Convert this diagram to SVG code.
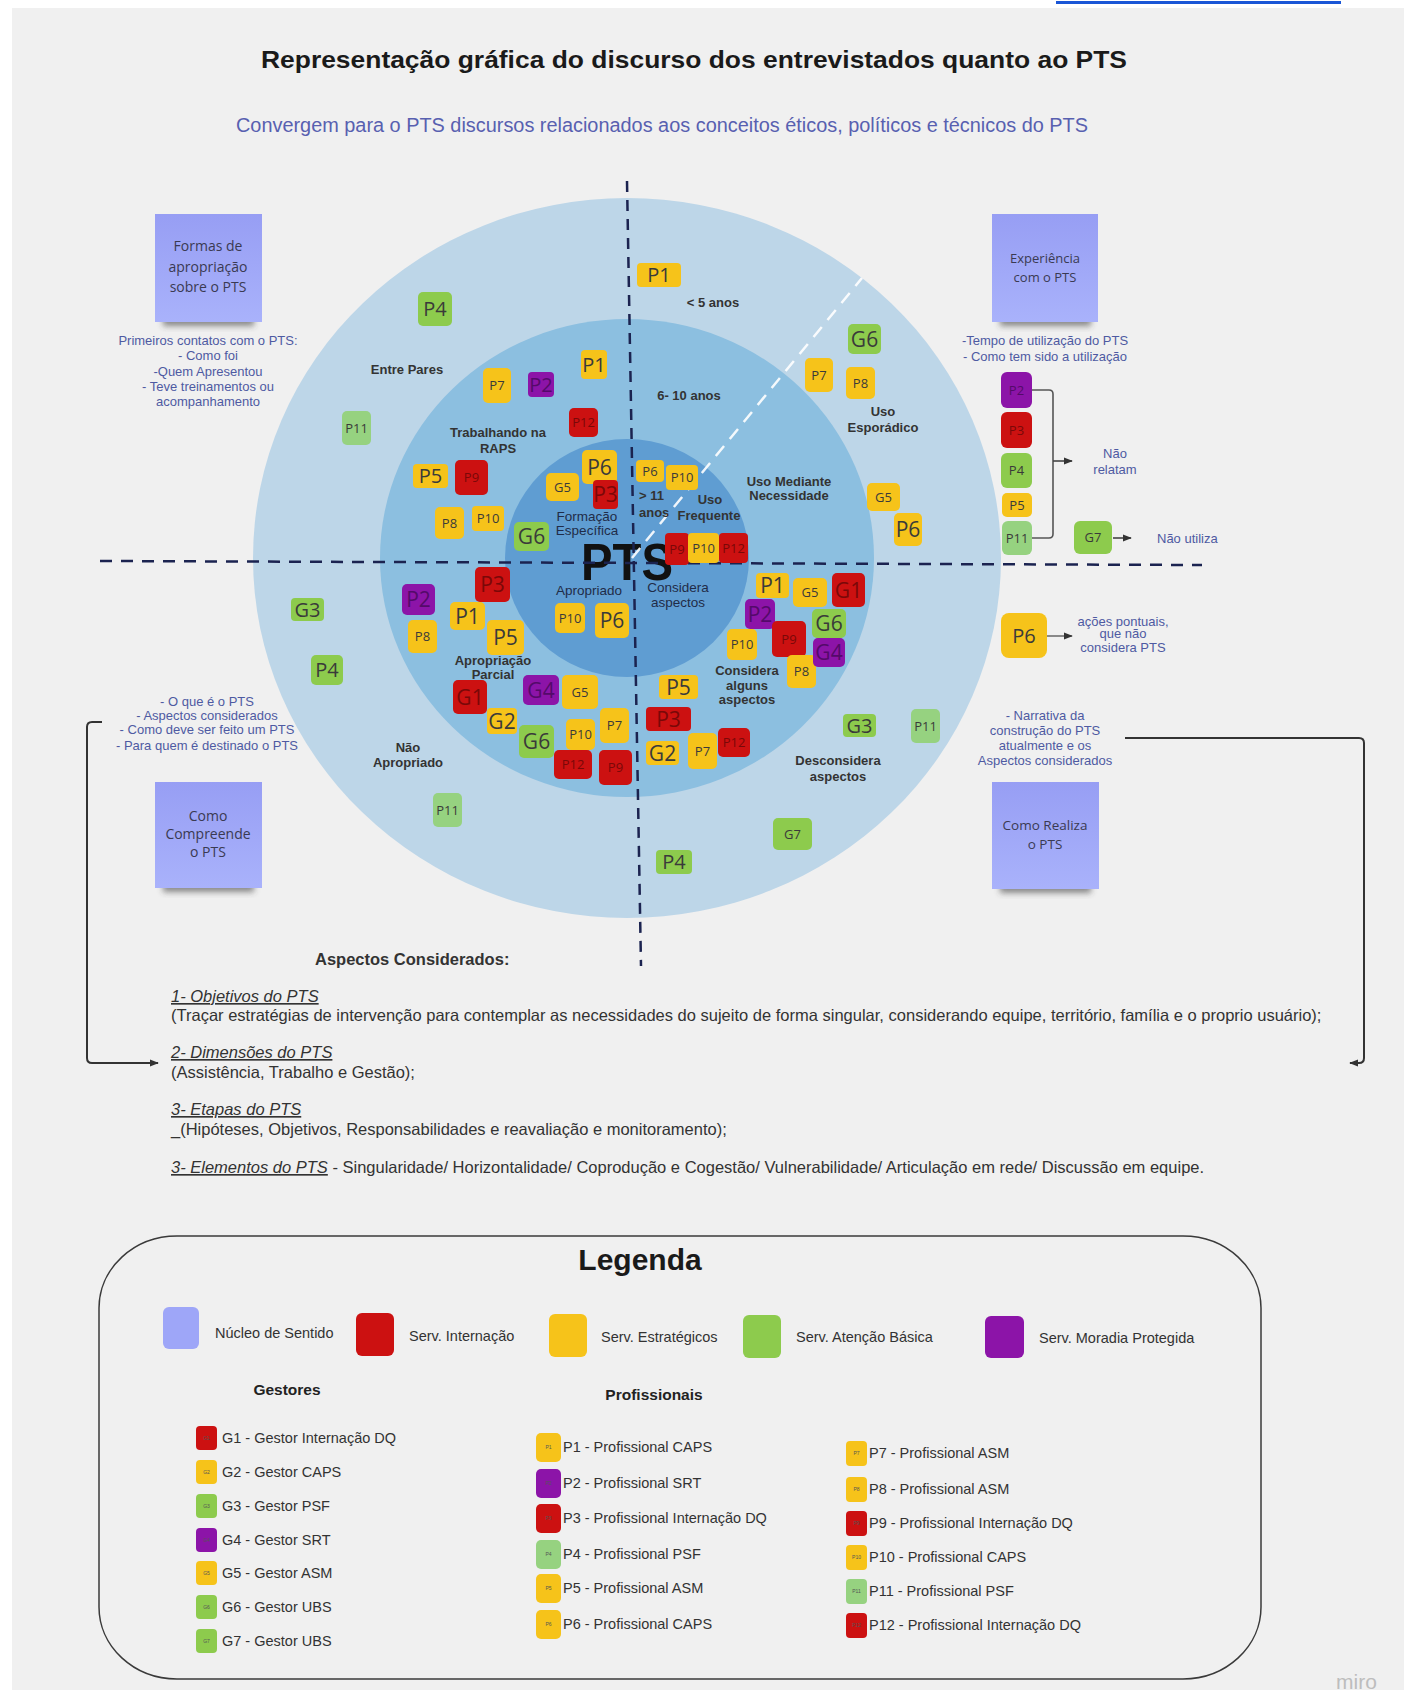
<svg xmlns="http://www.w3.org/2000/svg" width="1404" height="1690" viewBox="0 0 1404 1690">
<defs>
<style>
.sans{font-family:"Liberation Sans",Arial,sans-serif}
.tk{font-family:"Open Sans","Noto Sans",sans-serif;text-anchor:middle;fill:#3a3a3a}
.y{fill:#f6c31a}.r{fill:#cc1111}.g{fill:#8dcb4d}.lg{fill:#96d280}.pu{fill:#8c14a8}
.tr{fill:#7a0808}.tp{fill:#540a6a}
.b{font-size:20px}.s{font-size:13px}.m{font-size:21px}
.ring{font-family:"Liberation Sans",Arial,sans-serif;font-size:13px;font-weight:bold;fill:#333;text-anchor:middle}
.ringn{font-family:"Liberation Sans",Arial,sans-serif;font-size:13.5px;fill:#1f2c48;text-anchor:middle}
.blue{font-family:"Liberation Sans",Arial,sans-serif;font-size:13px;fill:#4e5aa2;text-anchor:middle}
.note{font-family:"Open Sans","Noto Sans",sans-serif;fill:#3a3a52;text-anchor:middle}
.body{font-family:"Liberation Sans",Arial,sans-serif;font-size:16.5px;fill:#333}
.leg{font-family:"Liberation Sans",Arial,sans-serif;font-size:14.5px;fill:#333}
.tiny{font-family:"Liberation Sans",Arial,sans-serif;font-size:5px;fill:#555;text-anchor:middle}
.conn{fill:none;stroke:#333;stroke-width:2}
.st{text-anchor:start}
</style>
<linearGradient id="stick" x1="0" y1="0" x2="0" y2="1">
<stop offset="0" stop-color="#979ef4"/>
<stop offset="1" stop-color="#a9b2fb"/>
</linearGradient>
<filter id="soft" x="-20%" y="-50%" width="140%" height="200%">
<feGaussianBlur stdDeviation="3"/>
</filter>
<marker id="ah" viewBox="0 0 10 10" refX="9" refY="5" markerWidth="9" markerHeight="9" markerUnits="userSpaceOnUse" orient="auto">
<path d="M0,1 L10,5 L0,9 Z" fill="#333"/>
</marker>
</defs>

<!-- canvas -->
<rect x="0" y="0" width="1404" height="1690" fill="#ffffff"/>
<rect x="12" y="8" width="1392" height="1682" fill="#f0f0f0"/>
<rect x="1056" y="1" width="285" height="3" fill="#1a56d6"/>

<!-- headings -->
<text class="sans" x="694" y="68" font-size="24" font-weight="bold" fill="#1a1a1a" text-anchor="middle" textLength="866" lengthAdjust="spacingAndGlyphs">Representação gráfica do discurso dos entrevistados quanto ao PTS</text>
<text class="sans" x="662" y="132" font-size="19.5" fill="#5860b0" text-anchor="middle" textLength="852" lengthAdjust="spacingAndGlyphs">Convergem para o PTS discursos relacionados aos conceitos éticos, políticos e técnicos do PTS</text>

<!-- concentric rings -->
<g id="rings">
<ellipse cx="627" cy="558" rx="374" ry="360" fill="#bdd6e8"/>
<ellipse cx="627" cy="558" rx="247" ry="239" fill="#8cbfe0"/>
<ellipse cx="627" cy="558" rx="122" ry="119" fill="#5f9dd2"/>
<text class="sans" x="627" y="580" font-size="52" font-weight="bold" fill="#111" text-anchor="middle" textLength="92" lengthAdjust="spacingAndGlyphs">PTS</text>
</g>

<!-- axes and links -->
<g id="connectors">
<line x1="100" y1="561" x2="1202" y2="565" stroke="#1b2350" stroke-width="2.5" stroke-dasharray="12 9"/>
<line x1="627" y1="181" x2="641" y2="966" stroke="#1b2350" stroke-width="2.5" stroke-dasharray="11 8"/>
<line x1="632" y1="558" x2="862" y2="278" stroke="#ffffff" stroke-opacity="0.9" stroke-width="2.5" stroke-dasharray="13 9"/>
<path d="M1032 390 H1049 Q1053 390 1053 394 V534 Q1053 538 1049 538 H1032" fill="none" stroke="#555" stroke-width="1.6"/>
<path d="M1053 461 H1072" fill="none" stroke="#444" stroke-width="1.6" marker-end="url(#ah)"/>
<path d="M1113 538 H1131" fill="none" stroke="#444" stroke-width="1.6" marker-end="url(#ah)"/>
<path d="M1047 636 H1072" fill="none" stroke="#444" stroke-width="1.2" marker-end="url(#ah)"/>
<path class="conn" d="M102 722 H92 Q87 722 87 727 V1058 Q87 1063 92 1063 H158" marker-end="url(#ah)"/>
<path class="conn" d="M1125 738 H1359 Q1364 738 1364 743 V1058 Q1364 1063 1359 1063 H1350" marker-end="url(#ah)"/>
</g>

<!-- ring labels -->
<g id="labels">
<text class="ring" x="407" y="374">Entre Pares</text>
<text class="ring" x="498" y="437">Trabalhando na</text>
<text class="ring" x="498" y="453">RAPS</text>
<text class="ring" x="713" y="307">&lt; 5 anos</text>
<text class="ring" x="689" y="400">6- 10 anos</text>
<text class="ring" x="883" y="416">Uso</text>
<text class="ring" x="883" y="432">Esporádico</text>
<text class="ringn" x="587" y="521">Formação</text>
<text class="ringn" x="587" y="535">Específica</text>
<text class="ring st" x="639" y="500">&gt; 11</text>
<text class="ring st" x="639" y="517">anos</text>
<text class="ring" x="710" y="504">Uso</text>
<text class="ring" x="709" y="520">Frequente</text>
<text class="ring" x="789" y="486">Uso Mediante</text>
<text class="ring" x="789" y="500">Necessidade</text>
<text class="ringn" x="589" y="595">Apropriado</text>
<text class="ringn" x="678" y="592">Considera</text>
<text class="ringn" x="678" y="607">aspectos</text>
<text class="ring" x="493" y="665">Apropriação</text>
<text class="ring" x="493" y="679">Parcial</text>
<text class="ring" x="747" y="675">Considera</text>
<text class="ring" x="747" y="690">alguns</text>
<text class="ring" x="747" y="704">aspectos</text>
<text class="ring" x="838" y="765">Desconsidera</text>
<text class="ring" x="838" y="781">aspectos</text>
<text class="ring" x="408" y="752">Não</text>
<text class="ring" x="408" y="767">Apropriado</text>
</g>

<!-- meaning-core notes -->
<g id="note-formas">
<rect x="163" y="314" width="91" height="12" fill="#333" opacity="0.55" filter="url(#soft)"/>
<rect x="155" y="214" width="107" height="108" fill="url(#stick)"/>
<text class="note" font-size="14" x="208" y="251">Formas de</text>
<text class="note" font-size="14" x="208" y="272">apropriação</text>
<text class="note" font-size="14" x="208" y="292">sobre o PTS</text>
</g>
<g id="note-experiencia">
<rect x="1000" y="314" width="91" height="12" fill="#333" opacity="0.55" filter="url(#soft)"/>
<rect x="992" y="214" width="106" height="108" fill="url(#stick)"/>
<text class="note" font-size="13" x="1045" y="263">Experiência</text>
<text class="note" font-size="13" x="1045" y="282">com o PTS</text>
</g>
<g id="note-compreende">
<rect x="163" y="880" width="91" height="12" fill="#333" opacity="0.55" filter="url(#soft)"/>
<rect x="155" y="782" width="107" height="106" fill="url(#stick)"/>
<text class="note" font-size="14" x="208" y="821">Como</text>
<text class="note" font-size="14" x="208" y="839">Compreende</text>
<text class="note" font-size="14" x="208" y="857">o PTS</text>
</g>
<g id="note-realiza">
<rect x="1000" y="881" width="91" height="12" fill="#333" opacity="0.55" filter="url(#soft)"/>
<rect x="992" y="782" width="107" height="107" fill="url(#stick)"/>
<text class="note" font-size="13.5" x="1045" y="830">Como Realiza</text>
<text class="note" font-size="13.5" x="1045" y="849">o PTS</text>
</g>

<!-- note descriptions -->
<g id="desc">
<text class="blue" x="208" y="345">Primeiros contatos com o PTS:</text>
<text class="blue" x="208" y="360">- Como foi</text>
<text class="blue" x="208" y="376">-Quem Apresentou</text>
<text class="blue" x="208" y="391">- Teve treinamentos ou</text>
<text class="blue" x="208" y="406">acompanhamento</text>
<text class="blue" x="1045" y="345">-Tempo de utilização do PTS</text>
<text class="blue" x="1045" y="361">- Como tem sido a utilização</text>
<text class="blue" x="207" y="706">- O que é o PTS</text>
<text class="blue" x="207" y="720">- Aspectos considerados</text>
<text class="blue" x="207" y="734">- Como deve ser feito um PTS</text>
<text class="blue" x="207" y="750">- Para quem é destinado o PTS</text>
<text class="blue" x="1045" y="720">- Narrativa da</text>
<text class="blue" x="1045" y="735">construção do PTS</text>
<text class="blue" x="1045" y="750">atualmente e os</text>
<text class="blue" x="1045" y="765">Aspectos considerados</text>
<text class="blue" x="1115" y="458" font-size="14.5" fill="#5f67b0">Não</text>
<text class="blue" x="1115" y="474" font-size="14.5" fill="#5f67b0">relatam</text>
<text class="blue st" x="1157" y="543" font-size="14.5" fill="#5f67b0">Não utiliza</text>
<text class="blue" x="1123" y="626" font-size="10">ações pontuais,</text>
<text class="blue" x="1123" y="638" font-size="10">que não</text>
<text class="blue" x="1123" y="652" font-size="10">considera PTS</text>
</g>

<!-- participant tokens -->
<g id="t01"><rect class="g" x="418" y="292" width="34" height="34" rx="5"/><text class="tk b" x="435" y="316">P4</text></g>
<g id="t02"><rect class="lg" x="342" y="411" width="29" height="34" rx="5"/><text class="tk s" x="356.5" y="432.7">P11</text></g>
<g id="t03"><rect class="y" x="483" y="368" width="28" height="35" rx="5"/><text class="tk s" x="497" y="390.2">P7</text></g>
<g id="t04"><rect class="pu" x="528" y="372" width="26" height="25" rx="4"/><text class="tk b tp" x="541" y="391.7">P2</text></g>
<g id="t05"><rect class="y" x="581" y="350" width="26" height="29" rx="4"/><text class="tk b" x="594" y="371.7">P1</text></g>
<g id="t06"><rect class="r" x="569" y="408" width="29" height="29" rx="5"/><text class="tk s tr" x="583.5" y="427.2">P12</text></g>
<g id="t07"><rect class="y" x="413" y="464" width="35" height="24" rx="4"/><text class="tk b" x="430.5" y="483.2">P5</text></g>
<g id="t08"><rect class="r" x="455" y="460" width="33" height="35" rx="5"/><text class="tk s tr" x="471.5" y="482.2">P9</text></g>
<g id="t09"><rect class="y" x="435" y="507" width="29" height="32" rx="5"/><text class="tk s" x="449.5" y="527.7">P8</text></g>
<g id="t10"><rect class="y" x="472" y="506" width="32" height="25" rx="4"/><text class="tk s" x="488" y="523.2">P10</text></g>
<g id="t11"><rect class="g" x="514" y="522" width="35" height="29" rx="5"/><text class="tk m" x="531.5" y="544.1">G6</text></g>
<g id="t12"><rect class="y" x="546" y="473" width="33" height="28" rx="5"/><text class="tk s" x="562.5" y="491.7">G5</text></g>
<g id="t13"><rect class="y" x="582" y="450" width="35" height="34" rx="5"/><text class="tk m" x="599.5" y="474.6">P6</text></g>
<g id="t14"><rect class="r" x="593" y="480" width="25" height="29" rx="4"/><text class="tk m tr" x="605.5" y="502.1">P3</text></g>
<g id="t15"><rect class="y" x="637" y="263" width="44" height="24" rx="4"/><text class="tk b" x="659" y="282.2">P1</text></g>
<g id="t16"><rect class="g" x="848" y="324" width="33" height="30" rx="5"/><text class="tk m" x="864.5" y="346.6">G6</text></g>
<g id="t17"><rect class="y" x="805" y="358" width="28" height="34" rx="5"/><text class="tk s" x="819" y="379.7">P7</text></g>
<g id="t18"><rect class="y" x="846" y="367" width="29" height="32" rx="5"/><text class="tk s" x="860.5" y="387.7">P8</text></g>
<g id="t19"><rect class="y" x="867" y="483" width="33" height="28" rx="5"/><text class="tk s" x="883.5" y="501.7">G5</text></g>
<g id="t20"><rect class="y" x="894" y="513" width="28" height="33" rx="5"/><text class="tk m" x="908" y="537.1">P6</text></g>
<g id="t21"><rect class="y" x="636" y="460" width="28" height="22" rx="4"/><text class="tk s" x="650" y="475.7">P6</text></g>
<g id="t22"><rect class="y" x="666" y="465" width="32" height="25" rx="4"/><text class="tk s" x="682" y="482.2">P10</text></g>
<g id="t23"><rect class="r" x="665" y="533" width="24" height="32" rx="4"/><text class="tk s tr" x="677" y="553.7">P9</text></g>
<g id="t24"><rect class="y" x="688" y="533" width="31" height="30" rx="4"/><text class="tk s" x="703.5" y="552.7">P10</text></g>
<g id="t25"><rect class="r" x="719" y="533" width="29" height="30" rx="4"/><text class="tk s tr" x="733.5" y="552.7">P12</text></g>
<g id="t26"><rect class="y" x="555" y="603" width="30" height="30" rx="5"/><text class="tk s" x="570" y="622.7">P10</text></g>
<g id="t27"><rect class="y" x="595" y="603" width="34" height="35" rx="5"/><text class="tk m" x="612" y="628.1">P6</text></g>
<g id="t28"><rect class="r" x="475" y="567" width="35" height="35" rx="5"/><text class="tk m tr" x="492.5" y="592.1">P3</text></g>
<g id="t29"><rect class="pu" x="402" y="584" width="33" height="31" rx="5"/><text class="tk m tp" x="418.5" y="607.1">P2</text></g>
<g id="t30"><rect class="y" x="450" y="602" width="35" height="28" rx="5"/><text class="tk m" x="467.5" y="623.6">P1</text></g>
<g id="t31"><rect class="y" x="408" y="620" width="29" height="33" rx="5"/><text class="tk s" x="422.5" y="641.2">P8</text></g>
<g id="t32"><rect class="y" x="487" y="620" width="37" height="35" rx="5"/><text class="tk m" x="505.5" y="645.1">P5</text></g>
<g id="t33"><rect class="r" x="453" y="680" width="34" height="34" rx="5"/><text class="tk m tr" x="470" y="704.6">G1</text></g>
<g id="t34"><rect class="pu" x="523" y="675" width="36" height="30" rx="5"/><text class="tk m tp" x="541" y="697.6">G4</text></g>
<g id="t35"><rect class="y" x="562" y="675" width="36" height="34" rx="5"/><text class="tk s" x="580" y="696.7">G5</text></g>
<g id="t36"><rect class="y" x="487" y="708" width="30" height="26" rx="4"/><text class="tk m" x="502" y="728.6">G2</text></g>
<g id="t37"><rect class="g" x="519" y="725" width="35" height="33" rx="5"/><text class="tk m" x="536.5" y="749.1">G6</text></g>
<g id="t38"><rect class="y" x="566" y="719" width="29" height="31" rx="5"/><text class="tk s" x="580.5" y="739.2">P10</text></g>
<g id="t39"><rect class="y" x="600" y="708" width="29" height="35" rx="5"/><text class="tk s" x="614.5" y="730.2">P7</text></g>
<g id="t40"><rect class="r" x="554" y="750" width="38" height="29" rx="5"/><text class="tk s tr" x="573" y="769.2">P12</text></g>
<g id="t41"><rect class="r" x="599" y="750" width="33" height="35" rx="5"/><text class="tk s tr" x="615.5" y="772.2">P9</text></g>
<g id="t42"><rect class="g" x="291" y="598" width="33" height="23" rx="4"/><text class="tk b" x="307.5" y="616.7">G3</text></g>
<g id="t43"><rect class="g" x="311" y="655" width="32" height="30" rx="5"/><text class="tk b" x="327" y="677.2">P4</text></g>
<g id="t44"><rect class="lg" x="433" y="793" width="29" height="34" rx="5"/><text class="tk s" x="447.5" y="814.7">P11</text></g>
<g id="t45"><rect class="y" x="659" y="675" width="39" height="24" rx="4"/><text class="tk m" x="678.5" y="694.6">P5</text></g>
<g id="t46"><rect class="r" x="646" y="707" width="45" height="24" rx="4"/><text class="tk m tr" x="668.5" y="726.6">P3</text></g>
<g id="t47"><rect class="y" x="646" y="741" width="33" height="24" rx="4"/><text class="tk m" x="662.5" y="760.6">G2</text></g>
<g id="t48"><rect class="y" x="688" y="733" width="29" height="36" rx="5"/><text class="tk s" x="702.5" y="755.7">P7</text></g>
<g id="t49"><rect class="r" x="718" y="728" width="32" height="29" rx="5"/><text class="tk s tr" x="734" y="747.2">P12</text></g>
<g id="t50"><rect class="y" x="756" y="573" width="33" height="25" rx="4"/><text class="tk m" x="772.5" y="593.1">P1</text></g>
<g id="t51"><rect class="y" x="793" y="578" width="34" height="29" rx="5"/><text class="tk s" x="810" y="597.2">G5</text></g>
<g id="t52"><rect class="r" x="832" y="573" width="33" height="34" rx="5"/><text class="tk m tr" x="848.5" y="597.6">G1</text></g>
<g id="t53"><rect class="pu" x="745" y="599" width="30" height="30" rx="5"/><text class="tk m tp" x="760" y="621.6">P2</text></g>
<g id="t54"><rect class="g" x="812" y="609" width="34" height="29" rx="5"/><text class="tk m" x="829" y="631.1">G6</text></g>
<g id="t55"><rect class="y" x="727" y="629" width="30" height="31" rx="5"/><text class="tk s" x="742" y="649.2">P10</text></g>
<g id="t56"><rect class="r" x="772" y="621" width="34" height="36" rx="5"/><text class="tk s tr" x="789" y="643.7">P9</text></g>
<g id="t58"><rect class="y" x="787" y="655" width="29" height="33" rx="5"/><text class="tk s" x="801.5" y="676.2">P8</text></g>
<g id="t57"><rect class="pu" x="813" y="638" width="32" height="29" rx="5"/><text class="tk m tp" x="829" y="660.1">G4</text></g>
<g id="t59"><rect class="g" x="843" y="714" width="33" height="23" rx="4"/><text class="tk b" x="859.5" y="732.7">G3</text></g>
<g id="t60"><rect class="lg" x="911" y="709" width="29" height="34" rx="5"/><text class="tk s" x="925.5" y="730.7">P11</text></g>
<g id="t61"><rect class="g" x="773" y="818" width="39" height="32" rx="5"/><text class="tk s" x="792.5" y="838.7">G7</text></g>
<g id="t62"><rect class="g" x="656" y="850" width="36" height="24" rx="4"/><text class="tk b" x="674" y="869.2">P4</text></g>
<g id="t63"><rect class="pu" x="1001" y="372" width="31" height="36" rx="6"/><text class="tk s tp" x="1016.5" y="394.7">P2</text></g>
<g id="t64"><rect class="r" x="1001" y="412" width="31" height="36" rx="6"/><text class="tk s tr" x="1016.5" y="434.7">P3</text></g>
<g id="t65"><rect class="g" x="1001" y="453" width="31" height="35" rx="6"/><text class="tk s" x="1016.5" y="475.2">P4</text></g>
<g id="t66"><rect class="y" x="1002" y="493" width="30" height="24" rx="5"/><text class="tk s" x="1017" y="509.7">P5</text></g>
<g id="t67"><rect class="lg" x="1002" y="521" width="30" height="34" rx="6"/><text class="tk s" x="1017" y="542.7">P11</text></g>
<g id="t68"><rect class="g" x="1074" y="521" width="38" height="33" rx="6"/><text class="tk s" x="1093" y="542.2">G7</text></g>
<g id="t69"><rect class="y" x="1001" y="613" width="46" height="45" rx="8"/><text class="tk b" x="1024" y="642.7">P6</text></g>

<!-- considered aspects -->
<g id="aspectos">
<text class="body" x="315" y="965" font-weight="bold">Aspectos Considerados:</text>
<text class="body" x="171" y="1002" font-style="italic" text-decoration="underline">1- Objetivos do PTS</text>
<text class="body" x="171" y="1021">(Traçar estratégias de intervenção para contemplar as necessidades do sujeito de forma singular, considerando equipe, território, família e o proprio usuário);</text>
<text class="body" x="171" y="1058" font-style="italic" text-decoration="underline">2- Dimensões do PTS</text>
<text class="body" x="171" y="1078">(Assistência, Trabalho e Gestão);</text>
<text class="body" x="171" y="1115" font-style="italic" text-decoration="underline">3- Etapas do PTS</text>
<text class="body" x="171" y="1135">_(Hipóteses, Objetivos, Responsabilidades e reavaliação e monitoramento);</text>
<text class="body" x="171" y="1173"><tspan font-style="italic" text-decoration="underline">3- Elementos do PTS</tspan> - Singularidade/ Horizontalidade/ Coprodução e Cogestão/ Vulnerabilidade/ Articulação em rede/ Discussão em equipe.</text>
</g>

<!-- legend -->
<g id="legend">
<rect x="99" y="1236" width="1162" height="443" rx="78" ry="72" fill="none" stroke="#3a3a3a" stroke-width="1.5"/>
<text class="sans" x="640" y="1270" font-size="30" font-weight="bold" fill="#1a1a1a" text-anchor="middle">Legenda</text>
<rect x="163" y="1307" width="36" height="42" rx="6" fill="#9ea6f8"/>
<text class="leg" x="215" y="1338">Núcleo de Sentido</text>
<rect class="r" x="356" y="1313" width="38" height="43" rx="6"/>
<text class="leg" x="409" y="1341">Serv. Internação</text>
<rect class="y" x="549" y="1314" width="38" height="43" rx="6"/>
<text class="leg" x="601" y="1342">Serv. Estratégicos</text>
<rect class="g" x="743" y="1315" width="38" height="43" rx="6"/>
<text class="leg" x="796" y="1342">Serv. Atenção Básica</text>
<rect class="pu" x="985" y="1316" width="39" height="42" rx="6"/>
<text class="leg" x="1039" y="1343">Serv. Moradia Protegida</text>
<text class="sans" x="287" y="1395" font-size="15.5" font-weight="bold" fill="#222" text-anchor="middle">Gestores</text>
<text class="sans" x="654" y="1400" font-size="15.5" font-weight="bold" fill="#222" text-anchor="middle">Profissionais</text>

<rect class="r" x="196" y="1426" width="21" height="24" rx="4"/><text class="tiny" x="206.5" y="1440">G1</text><text class="leg" x="222" y="1443">G1 - Gestor Internação DQ</text>
<rect class="y" x="196" y="1460" width="21" height="24" rx="4"/><text class="tiny" x="206.5" y="1474">G2</text><text class="leg" x="222" y="1477">G2 - Gestor CAPS</text>
<rect class="g" x="196" y="1494" width="21" height="24" rx="4"/><text class="tiny" x="206.5" y="1508">G3</text><text class="leg" x="222" y="1511">G3 - Gestor PSF</text>
<rect class="pu" x="196" y="1528" width="21" height="24" rx="4"/><text class="tiny" x="206.5" y="1542">G4</text><text class="leg" x="222" y="1545">G4 - Gestor SRT</text>
<rect class="y" x="196" y="1561" width="21" height="24" rx="4"/><text class="tiny" x="206.5" y="1575">G5</text><text class="leg" x="222" y="1578">G5 - Gestor ASM</text>
<rect class="g" x="196" y="1595" width="21" height="24" rx="4"/><text class="tiny" x="206.5" y="1609">G6</text><text class="leg" x="222" y="1612">G6 - Gestor UBS</text>
<rect class="g" x="196" y="1629" width="21" height="24" rx="4"/><text class="tiny" x="206.5" y="1643">G7</text><text class="leg" x="222" y="1646">G7 - Gestor UBS</text>

<rect class="y" x="536" y="1433" width="25" height="29" rx="5"/><text class="tiny" x="548.5" y="1449">P1</text><text class="leg" x="563" y="1452">P1 -  Profissional CAPS</text>
<rect class="pu" x="536" y="1469" width="25" height="29" rx="5"/><text class="tiny" x="548.5" y="1485">P2</text><text class="leg" x="563" y="1488">P2 - Profissional SRT</text>
<rect class="r" x="536" y="1504" width="25" height="29" rx="5"/><text class="tiny" x="548.5" y="1520">P3</text><text class="leg" x="563" y="1523">P3 - Profissional Internação DQ</text>
<rect class="lg" x="536" y="1540" width="25" height="29" rx="5"/><text class="tiny" x="548.5" y="1556">P4</text><text class="leg" x="563" y="1559">P4 - Profissional PSF</text>
<rect class="y" x="536" y="1574" width="25" height="29" rx="5"/><text class="tiny" x="548.5" y="1590">P5</text><text class="leg" x="563" y="1593">P5 - Profissional ASM</text>
<rect class="y" x="536" y="1610" width="25" height="29" rx="5"/><text class="tiny" x="548.5" y="1626">P6</text><text class="leg" x="563" y="1629">P6 - Profissional CAPS</text>

<rect class="y" x="846" y="1441" width="21" height="25" rx="4"/><text class="tiny" x="856.5" y="1455">P7</text><text class="leg" x="869" y="1458">P7 -  Profissional ASM</text>
<rect class="y" x="846" y="1477" width="21" height="25" rx="4"/><text class="tiny" x="856.5" y="1491">P8</text><text class="leg" x="869" y="1494">P8 - Profissional ASM</text>
<rect class="r" x="846" y="1511" width="21" height="25" rx="4"/><text class="tiny" x="856.5" y="1525">P9</text><text class="leg" x="869" y="1528">P9 - Profissional Internação DQ</text>
<rect class="y" x="846" y="1545" width="21" height="25" rx="4"/><text class="tiny" x="856.5" y="1559">P10</text><text class="leg" x="869" y="1562">P10 - Profissional CAPS</text>
<rect class="lg" x="846" y="1579" width="21" height="25" rx="4"/><text class="tiny" x="856.5" y="1593">P11</text><text class="leg" x="869" y="1596">P11 - Profissional PSF</text>
<rect class="r" x="846" y="1613" width="21" height="25" rx="4"/><text class="tiny" x="856.5" y="1627">P12</text><text class="leg" x="869" y="1630">P12 - Profissional Internação DQ</text>
</g>

<text class="sans" x="1336" y="1689" font-size="21" fill="#bdbdbd">miro</text>
</svg>
